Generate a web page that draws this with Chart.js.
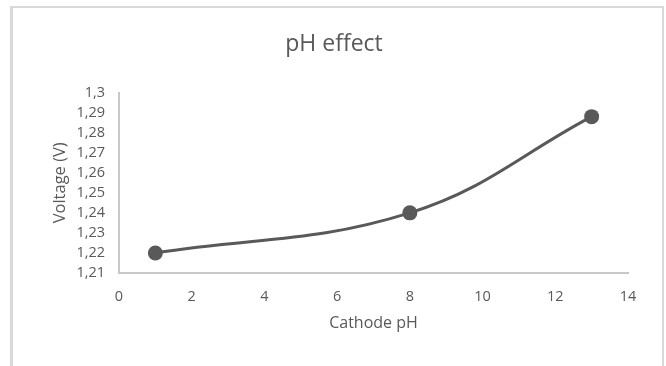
<!DOCTYPE html>
<html>
<head>
<meta charset="utf-8">
<script src="https://cdn.jsdelivr.net/npm/chart.js@4"></script>
<style>
  body { margin: 0; background: #fff; }
  #wrap { position: relative; width: 666px; height: 366px; overflow: hidden; }
  #frame { position: absolute; left: 10px; top: 6px; width: 649px; height: 400px;
           border: 2px solid #d9d9d9; border-left-width: 3px; border-bottom: none; }
  #phChart { position: absolute; left: 0; top: 0; }
</style>
</head>
<body>
<div id="wrap">
  <div id="frame"></div>
  <canvas id="phChart" width="666" height="366"></canvas>
</div>
<script>
// values
const phValues = [1, 8, 13];
const voltages = [1.22, 1.24, 1.288];
const xTickRange = [0, 14, 2];      // min, max, step
const yTickRange = [1.21, 1.3, 0.01];

const grey = '#595959';
const font = "'Open Sans', 'Liberation Sans', sans-serif";

const ctx = document.getElementById('phChart').getContext('2d');

new Chart(ctx, {
    type: 'scatter',
    data: {
        datasets: [{
            data: phValues.map((x, i) => ({ x: x, y: voltages[i] })),
            showLine: true,
            borderColor: grey,
            borderWidth: 3,
            tension: 0.4,
            pointRadius: 7.5,
            pointBackgroundColor: grey,
            pointBorderColor: grey,
            pointBorderWidth: 0
        }]
    },
    options: {
        responsive: false,
        animation: false,
        layout: { padding: { left: 40, right: 38, top: 0, bottom: 0 } },
        plugins: {
            legend: { display: false },
            tooltip: { enabled: false },
            title: {
                display: true,
                text: 'pH effect',
                color: grey,
                font: { family: font, size: 23, weight: 'normal' },
                padding: { top: 31, bottom: 34 }
            }
        },
        scales: {
            x: {
                type: 'linear',
                min: xTickRange[0],
                max: xTickRange[1],
                ticks: {
                    stepSize: xTickRange[2],
                    autoSkip: false,
                    color: grey,
                    padding: 15,
                    font: { family: font, size: 14.5 }
                },
                grid: { display: false, drawTicks: false },
                border: { color: '#c8c8c8', width: 2 },
                title: {
                    display: true,
                    text: 'Cathode pH',
                    color: grey,
                    font: { family: font, size: 16 },
                    padding: { top: 0, bottom: 33 }
                },
                afterFit: function(scale) { scale.height = 93; }
            },
            y: {
                min: yTickRange[0],
                max: yTickRange[1],
                ticks: {
                    stepSize: yTickRange[2],
                    autoSkip: false,
                    color: grey,
                    padding: 14,
                    font: { family: font, size: 14.5 },
                    callback: function(v) {
                        return String(Number(v.toFixed(2))).replace('.', ',');
                    }
                },
                grid: { display: false, drawTicks: false },
                border: { color: '#c8c8c8', width: 2 },
                title: {
                    display: true,
                    text: 'Voltage (V)',
                    color: grey,
                    font: { family: font, size: 16.5 },
                    padding: { top: 10, bottom: 0 }
                },
                afterFit: function(scale) { scale.width = 79; }
            }
        }
    }
});
</script>
</body>
</html>
